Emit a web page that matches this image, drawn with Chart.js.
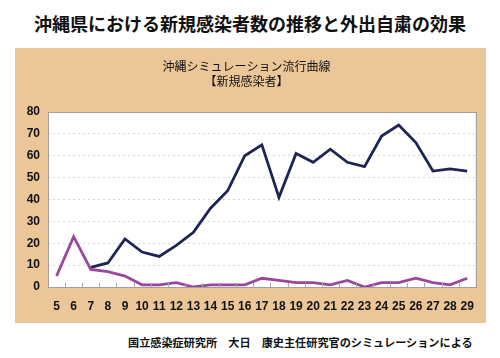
<!DOCTYPE html>
<html><head><meta charset="utf-8">
<script src="https://cdn.jsdelivr.net/npm/chart.js@4/dist/chart.umd.min.js"></script>
<style>
html,body{margin:0;padding:0;background:#fff;width:500px;height:358px;overflow:hidden;font-family:"Noto Sans CJK JP","Liberation Sans",sans-serif;}
#title{position:absolute;left:0;top:11px;width:500px;text-align:center;font-size:18px;font-weight:bold;color:#111;line-height:24px;}
#panel{position:absolute;left:15px;top:48px;width:471px;height:275px;background:#EAC698;}
#foot{position:absolute;left:128px;top:334px;font-size:11.15px;font-weight:bold;color:#111;white-space:nowrap;line-height:16px;}
</style></head>
<body>
<div id="title">沖縄県における新規感染者数の推移と外出自粛の効果</div>
<div id="panel"><canvas id="c" width="471" height="275"></canvas></div>
<div id="foot">国立感染症研究所　大日　康史主任研究官のシミュレーションによる</div>
<script>
const categories = ["5","6","7","8","9","10","11","12","13","14","15","16","17","18","19","20","21","22","23","24","25","26","27","28","29"];
const seriesA = [null,null,9,11,22,16,14,19,25,36,44,60,65,41,61,57,63,57,55,69,74,66,53,54,53];
const seriesB = [5,23,8,7,5,1,1,2,0,1,1,1,4,3,2,2,1,3,0,2,2,4,2,1,4];
const yTicks = [0,10,20,30,40,50,60,70,80];

const bgPlugin = {
  id:'bg',
  beforeDraw(chart){
    const {ctx, chartArea:a} = chart;
    ctx.save(); ctx.fillStyle='#fff'; ctx.fillRect(a.left,a.top,a.right-a.left,a.bottom-a.top); ctx.restore();
  },
  afterDatasetsDraw(chart){
    const {ctx, chartArea:a} = chart;
    const xs = chart.scales.x;
    ctx.save();
    ctx.strokeStyle='#a8a8a8'; ctx.lineWidth=1;
    for(let i=1;i<categories.length;i++){
      const x = Math.round((xs.getPixelForTick(i-1)+xs.getPixelForTick(i))/2)+0.5;
      ctx.beginPath(); ctx.moveTo(x,a.bottom); ctx.lineTo(x,a.bottom-4); ctx.stroke();
    }
    ctx.strokeStyle='#a0a0a0';
    ctx.strokeRect(Math.round(a.left)+0.5,Math.round(a.top)+0.5,Math.round(a.right-a.left),Math.round(a.bottom-a.top));
    ctx.restore();
  }
};

new Chart(document.getElementById('c'),{
  type:'line',
  data:{labels:categories,datasets:[
    {data:seriesA,borderColor:'#1E2453',borderWidth:2.8,pointRadius:0,tension:0,order:2},
    {data:seriesB,borderColor:'#99479C',borderWidth:2.8,pointRadius:0,tension:0,order:1}
  ]},
  options:{
    responsive:false,animation:false,
    layout:{padding:{left:0,right:8,top:0,bottom:0}},
    plugins:{
      legend:{display:false},tooltip:{enabled:false},
      title:{display:true,text:['沖縄シミュレーション流行曲線','【新規感染者】'],color:'#111',
        font:{family:'"Noto Sans CJK JP",sans-serif',size:12,weight:'normal',lineHeight:1.25},padding:{top:11,bottom:23}}
    },
    scales:{
      x:{offset:true,grid:{display:false,drawTicks:false},border:{display:false},
        ticks:{color:'#111',font:{family:'"Liberation Sans",Arial,sans-serif',size:12,weight:'bold'},padding:12,maxRotation:0,autoSkip:false},
        afterFit(s){s.height=36;}},
      y:{min:0,max:80,afterBuildTicks(s){s.ticks=yTicks.map(v=>({value:v}));},
        afterFit(s){s.width=33;},
        grid:{color:'#d6d6d6',lineWidth:1,drawTicks:false},border:{display:false,dash:[2,3]},
        ticks:{color:'#111',font:{family:'"Liberation Sans",Arial,sans-serif',size:12,weight:'bold'},padding:8}}
    }
  },
  plugins:[bgPlugin]
});
</script>
</body></html>
